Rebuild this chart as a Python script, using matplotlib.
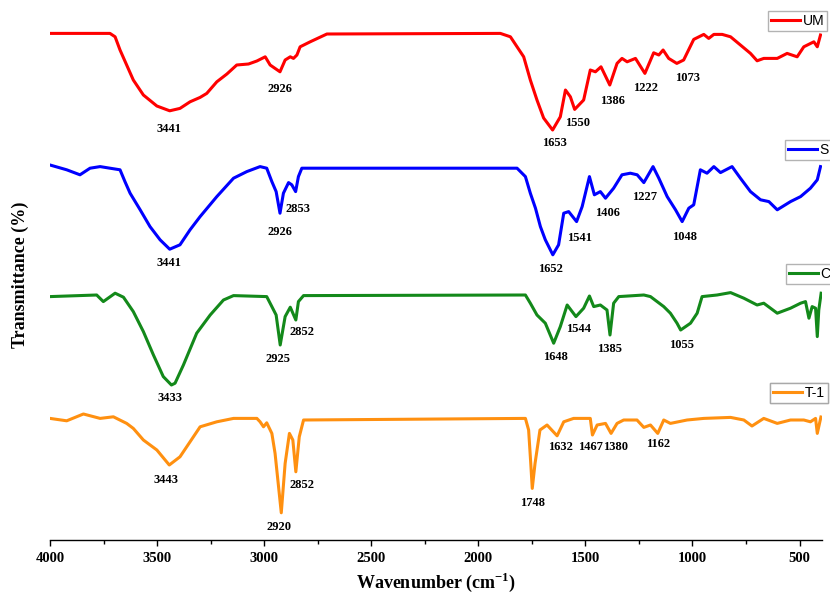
import matplotlib
matplotlib.use("Agg")
import matplotlib.pyplot as plt
import numpy as np

plt.rcParams['font.family'] = ['Liberation Serif', 'DejaVu Serif']
plt.rcParams['mathtext.fontset'] = 'custom'
plt.rcParams['mathtext.rm'] = 'Liberation Serif:bold'
plt.rcParams['mathtext.bf'] = 'Liberation Serif:bold'

# wavenumber (cm-1) / relative transmittance
um_wn = [4000, 3720, 3696, 3673, 3642, 3611, 3564, 3501, 3441, 3393, 3346, 3299, 3268, 3221,
         3174, 3128, 3073, 3034, 2995, 2972, 2949, 2926, 2902, 2878, 2863, 2847, 2832, 2785,
         2707, 1897, 1850, 1788, 1757, 1726, 1695, 1653, 1617, 1593, 1570, 1550, 1508, 1477,
         1453, 1427, 1386, 1352, 1329, 1305, 1266, 1222, 1181, 1157, 1137, 1111, 1073, 1041,
         994, 947, 924, 900, 861, 822, 776, 729, 698, 667, 604, 558, 511, 480, 433, 417, 402]
um_t = [100, 100, 98.3, 91.7, 84.2, 76.7, 69.2, 63.7, 61.3, 62.5, 65.8, 68, 70, 75.8,
        79.7, 84.2, 84.7, 86.2, 88.3, 84.2, 82.5, 80.8, 86.7, 88.3, 87.5, 89.2, 93.3, 95.8,
        99.7, 100, 98.3, 88.3, 76.7, 66.7, 57.7, 51.7, 58.3, 71.7, 68.3, 62, 66.7, 81.7,
        80.8, 83.3, 74.2, 85, 87.5, 85.8, 87.5, 80, 90.3, 89.2, 91.7, 87.5, 85, 86.7,
        97, 99.5, 97.5, 99.5, 99.5, 98.3, 94.2, 90, 86.3, 87.5, 87.5, 90, 88.3, 93.3, 95.8, 93.3, 99.2]

s_wn = [4000, 3922, 3860, 3813, 3766, 3720, 3673, 3650, 3626, 3579, 3533, 3486, 3441, 3393,
        3346, 3299, 3221, 3143, 3081, 3019, 2988, 2964, 2944, 2926, 2910, 2886, 2871, 2853,
        2840, 2824, 1819, 1780, 1757, 1733, 1710, 1687, 1652, 1625, 1601, 1578, 1541, 1515,
        1481, 1458, 1430, 1406, 1368, 1329, 1290, 1258, 1227, 1184, 1157, 1118, 1079, 1048,
        1017, 994, 963, 932, 900, 869, 815, 776, 729, 682, 643, 604, 542, 495, 449, 417, 402]
s_t = [100.8, 98.4, 95.9, 99.2, 100, 99.2, 98.4, 92.5, 86.7, 78.4, 70, 63.4, 58.7, 60.9,
       68.4, 75, 85, 94.2, 97.5, 100, 99.2, 92.5, 87.5, 76.7, 86.7, 92, 90.9, 87.5,
       95, 99.2, 99.2, 95, 86.7, 79.2, 70, 63.4, 55.9, 60.9, 76.7, 77.5, 72.5, 80,
       95, 85.9, 87.5, 84.2, 89.2, 95.9, 96.7, 95.9, 92, 100, 94.2, 85, 78.4, 72.5,
       79.2, 80.9, 98.4, 96.7, 100, 97, 100, 94.2, 87.5, 83.4, 82.5, 78.4, 82.5, 85, 89.2, 93.4, 100]

c_wn = [4000, 3782, 3751, 3696, 3657, 3611, 3564, 3517, 3471, 3433, 3416, 3377, 3315, 3252,
        3190, 3143, 2988, 2964, 2944, 2925, 2902, 2878, 2852, 2840, 2816, 1780, 1757, 1726,
        1687, 1648, 1617, 1585, 1544, 1508, 1481, 1461, 1430, 1399, 1385, 1368, 1344, 1227,
        1196, 1165, 1134, 1103, 1072, 1055, 1009, 978, 955, 885, 822, 760, 698, 667, 604,
        542, 495, 472, 456, 441, 425, 417, 410, 399]
c_t = [99.7, 100.5, 97.2, 101.4, 99.4, 92.2, 82.2, 70.5, 59.7, 55.5, 56.4, 65.5, 81.4, 90.5,
       98, 100.2, 99.7, 94.7, 90.5, 75.5, 89.7, 94.4, 88, 97.2, 100.2, 100.5, 96.4, 90.5,
       86.4, 76.4, 84.7, 95.5, 89.7, 93.9, 100, 94.7, 95.5, 93, 80.5, 96.4, 99.7, 100.5,
       99.7, 97.2, 94.7, 91.4, 86.4, 83, 86.4, 91.4, 99.7, 100.5, 101.7, 98.9, 95.5, 96.4, 91.4,
       93.9, 96.4, 97.2, 88.9, 94.7, 93.9, 79.7, 93, 101.4]

t1_wn = [4000, 3922, 3844, 3766, 3704, 3642, 3611, 3564, 3501, 3443, 3393, 3346, 3299, 3221,
         3143, 3034, 3019, 3003, 2988, 2964, 2949, 2920, 2902, 2882, 2866, 2852, 2836, 2816,
         1780, 1765, 1755, 1748, 1735, 1712, 1679, 1632, 1601, 1555, 1477, 1467, 1445, 1406,
         1380, 1352, 1321, 1259, 1227, 1196, 1162, 1134, 1103, 1025, 947, 822, 760, 722, 667,
         604, 542, 480, 449, 425, 417, 405, 400]
t1_t = [100, 98.8, 102.2, 100, 100.8, 97.5, 95, 89.2, 84.2, 76.7, 80.8, 88.3, 95.8, 98.3,
        100, 100, 98.3, 95.8, 97.8, 92.5, 82.5, 52.8, 77.5, 92.5, 89.2, 73.3, 90.8, 99.2,
        100, 94.2, 77.5, 65, 77.5, 94.2, 96.7, 91.3, 98.3, 100, 100, 91.7, 96.7, 97.5,
        92.5, 97.5, 99.2, 99.2, 95.5, 96.7, 92.5, 99.2, 97.5, 99.2, 100, 100.5, 99.2, 96.2, 100,
        97.5, 99.2, 99.2, 98.3, 100, 92.5, 98.3, 100.7]

# peak labels: (text, x, y in transmittance units)
um_peaks = [("3441", 3444, 52.1), ("2926", 2925, 72.2), ("1653", 1645, 45.2), ("1550", 1537, 55.2),
            ("1386", 1374, 66.2), ("1222", 1220, 72.7), ("1073", 1023, 77.7)]
s_peaks = [("3441", 3444, 51.9), ("2926", 2925, 67.4), ("2853", 2841, 78.9), ("1652", 1663, 48.9),
           ("1541", 1528, 64.4), ("1406", 1397, 76.9), ("1227", 1224, 84.9), ("1048", 1037, 64.9)]
c_peaks = [("3433", 3439, 49), ("2925", 2935, 68.5), ("2852", 2822, 82), ("1648", 1640, 69.5),
           ("1544", 1533, 83.5), ("1385", 1388, 73.5), ("1055", 1051, 75.5)]
t1_peaks = [("3443", 3458, 69.2), ("2920", 2930, 45.7), ("2852", 2822, 66.7), ("1748", 1748, 57.7),
            ("1632", 1617, 85.7), ("1467", 1477, 85.7), ("1380", 1360, 85.7), ("1162", 1159, 87.2)]

names = ["UM", "S", "C", "T-1"]
colors = ["#ff0000", "#0000ff", "#13891a", "#ff9010"]
offsets = [153.3, 86.7, 22.0, -39.2]
legend_pos = [(768, 11), (785, 140), (786, 264), (770, 383)]  # pixel, upper-left

fig = plt.figure(figsize=(8.3, 5.97), dpi=100)
ax = fig.add_axes([50/830, 57/597, 772/830, 530/597])

series = [(um_wn, um_t, um_peaks), (s_wn, s_t, s_peaks), (c_wn, c_t, c_peaks), (t1_wn, t1_t, t1_peaks)]
for (wn, t, peaks), name, col, off, lp in zip(series, names, colors, offsets, legend_pos):
    line, = ax.plot(wn, np.array(t) + off, color=col, lw=2.2, label=name, solid_joinstyle='round')
    for txt, x, y in peaks:
        ax.text(x, y + off, txt, ha='center', va='center', fontsize=9, fontweight='bold')
    leg = ax.legend(handles=[line], loc='upper left', bbox_to_anchor=(lp[0]/830, 1 - lp[1]/597),
                    bbox_transform=fig.transFigure, borderaxespad=0, frameon=True, fancybox=False,
                    handlelength=2.1, handletextpad=0.2, borderpad=0.2,
                    prop={'family': 'Liberation Sans', 'size': 10})
    leg.get_frame().set_edgecolor('#a0a0a0')
    leg.get_frame().set_linewidth(1.0)
    ax.add_artist(leg)

ax.set_xlim(4000, 395)
ax.set_ylim(0, 265)
ax.set_xticks([4000, 3500, 3000, 2500, 2000, 1500, 1000, 500])
ax.set_xticks(np.arange(3750, 400, -500), minor=True)
ax.set_yticks([])
for side in ['left', 'top', 'right']:
    ax.spines[side].set_visible(False)
ax.spines['bottom'].set_linewidth(1.0)
ax.tick_params(axis='x', which='major', length=4, width=1, labelsize=10.5, pad=5)
ax.tick_params(axis='x', which='minor', length=3, width=1)
for lab in ax.get_xticklabels():
    lab.set_fontweight('bold')

ax.set_xlabel(r'Wavenumber (cm$^{-1}$)', fontsize=13, fontweight='bold', labelpad=4)
ax.set_ylabel('Transmittance (%)', fontsize=13, fontweight='bold', labelpad=15)

fig.savefig("out.png", dpi=100)
